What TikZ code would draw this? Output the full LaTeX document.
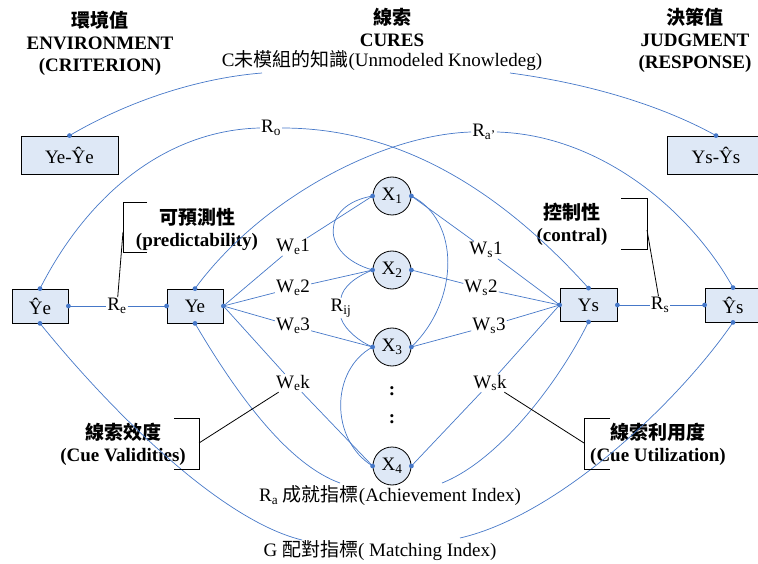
\documentclass[tikz,border=0pt]{standalone}
\usepackage{fontspec}
\setmainfont{Liberation Serif}
\newfontfamily\cjk{Noto Sans CJK TC}
\definecolor{lblue}{RGB}{70,120,200}
\definecolor{boxfill}{RGB}{222,232,246}
\begin{document}
\begin{tikzpicture}[x=1pt,y=-1pt,
  every node/.style={font=\fontsize{19}{22}\selectfont, inner sep=1pt},
  bx/.style={draw=black, line width=0.8pt, fill=boxfill, minimum height=34pt, inner sep=0pt},
  cue/.style={circle, draw=black, line width=0.8pt, fill=boxfill, minimum size=38pt, inner sep=0pt},
  lbl/.style={fill=white, inner sep=1pt},
  link/.style={draw=lblue, line width=0.7pt},
  brk/.style={draw=black, line width=0.8pt},
  ttl/.style={align=center, font=\fontsize{19}{22}\selectfont\bfseries},
  note/.style={align=center, font=\fontsize{19}{22}\selectfont\bfseries},
]
\useasboundingbox (0,0) rectangle (758,564);

% titles
\node[ttl] (envT) at (100,43) {{\cjk 環境值}\\ENVIRONMENT\\(CRITERION)};
\node[ttl] (cueT) at (392,27) {{\cjk 線索}\\CURES};
\node (cT) at (382,61) {C{\cjk 未模組的知識}(Unmodeled Knowledeg)};
\node[ttl] (judT) at (695,40) {{\cjk 決策值}\\JUDGMENT\\(RESPONSE)};

% boxes
\node[bx, minimum width=97pt, minimum height=38pt] (YeD) at (69.5,155) {Ye-Ŷe};
\node[bx, minimum width=97pt, minimum height=38pt] (YsD) at (716,155) {Ys-Ŷs};
\node[bx, minimum width=56pt] (Yhe) at (40,306) {Ŷe};
\node[bx, minimum width=56pt] (Ye) at (195,306) {Ye};
\node[bx, minimum width=57pt, minimum height=33pt] (Ys) at (588.5,305) {Ys};
\node[bx, minimum width=56pt] (Yhs) at (733,305) {Ŷs};

% cues
\node[cue] (X1) at (392,196) {X\textsubscript{1}};
\node[cue] (X2) at (392,270) {X\textsubscript{2}};
\node[cue] (X3) at (392,347) {X\textsubscript{3}};
\node[cue] (X4) at (392,466) {X\textsubscript{4}};
\node[font=\fontsize{19}{22}\selectfont\bfseries] (dA) at (392,391) {:};
\node[font=\fontsize{19}{22}\selectfont\bfseries] (dB) at (392,419) {:};

% weight labels
\node[lbl] (We1) at (293,247) {W\textsubscript{e}1};
\node[lbl] (We2) at (293,288) {W\textsubscript{e}2};
\node[lbl] (We3) at (293,326) {W\textsubscript{e}3};
\node[lbl] (Wek) at (293,383) {W\textsubscript{e}k};
\node[lbl] (Ws1) at (486,250) {W\textsubscript{s}1};
\node[lbl] (Ws2) at (481,288) {W\textsubscript{s}2};
\node[lbl] (Ws3) at (489,326) {W\textsubscript{s}3};
\node[lbl] (Wsk) at (490,383) {W\textsubscript{s}k};

\node[lbl] (Re) at (117,306) {R\textsubscript{e}};
\node[lbl] (Rs) at (660,305) {R\textsubscript{s}};
\node (Rij) at (341,308) {R\textsubscript{ij}};
\node (Ro) at (271,128) {R\textsubscript{o}};
\node (Rap) at (484,132) {R\textsubscript{a'}};

\node (RaT) at (390,496) {R\textsubscript{a} {\cjk 成就指標}(Achievement Index)};
\node (GT) at (380,551) {G {\cjk 配對指標}( Matching Index)};

% bracket notes
\node[note] (pred) at (197,229) {{\cjk 可預測性}\\(predictability)};
\node[note] (ctrl) at (572,224) {{\cjk 控制性}\\(contral)};
\node[note] (val) at (123,444) {{\cjk 線索效度}\\(Cue Validities)};
\node[note] (util) at (658,444) {{\cjk 線索利用度}\\(Cue Utilization)};

% free-end coordinates
\coordinate (cL) at (262,73);
\coordinate (cR) at (510,73);
\coordinate (raL) at (340,483);
\coordinate (raR) at (442,483);
\coordinate (gL) at (302,540);
\coordinate (gR) at (460,538);
\coordinate (bP) at (123,232);
\coordinate (bC) at (647,230);
\coordinate (bV) at (199,443);
\coordinate (bU) at (584,443);

% straight links
\draw[link] (Yhe.east) -- (Re) -- (Ye.west);
\draw[link] (Ys.east) -- (Rs) -- (Yhs.west);
\draw[link] (Ye.east) -- (We1) -- (X1.west);
\draw[link] (Ye.east) -- (We2) -- (X2.west);
\draw[link] (Ye.east) -- (We3) -- (X3.west);
\draw[link] (Ye.east) -- (Wek) -- (X4.west);
\draw[link] (Ys.west) -- (Ws1) -- (X1.east);
\draw[link] (Ys.west) -- (Ws2) -- (X2.east);
\draw[link] (Ys.west) -- (Ws3) -- (X3.east);
\draw[link] (Ys.west) -- (Wsk) -- (X4.east);

% cue intercorrelations
\draw[link] (X1.west) .. controls (320,205) and (320,255) .. (X2.west);
\draw[link] (X2.west) .. controls (355,277) and (343,287) .. (Rij.north);
\draw[link] (Rij.south) .. controls (345,330) and (360,342) .. (X3.west);
\draw[link] (X3.west) .. controls (330,370) and (330,440) .. (X4.west);
\draw[link] (X1.east) .. controls (460,220) and (460,300) .. (X3.east);

% big arcs
\draw[link] (YeD.north) .. controls (130,100) and (200,78) .. (cL);
\draw[link] (cR) .. controls (600,85) and (670,110) .. (YsD.north);
\draw[link] (Yhe.north) .. controls (90,190) and (170,130) .. (Ro.west);
\draw[link] (Ro.east) .. controls (400,128) and (500,190) .. (Ys.north);
\draw[link] (Ye.north) .. controls (260,200) and (380,135) .. (Rap.west);
\draw[link] (Rap.east) .. controls (600,135) and (690,210) .. (Yhs.north);
\draw[link] (Ye.south) .. controls (240,400) and (290,465) .. (raL);
\draw[link] (raR) .. controls (500,460) and (560,380) .. (Ys.south);
\draw[link] (Yhe.south) .. controls (110,410) and (220,520) .. (gL);
\draw[link] (gR) .. controls (560,515) and (680,400) .. (Yhs.south);

% brackets
\draw[brk] (147,202) -- (123,202) -- (123,252) -- (147,252);
\draw[brk] (bP) -- (Re);
\draw[brk] (621,198) -- (647,198) -- (647,249) -- (621,249);
\draw[brk] (bC) -- (Rs);
\draw[brk] (174,418) -- (199,418) -- (199,469) -- (174,469);
\draw[brk] (bV) -- (Wek);
\draw[brk] (610,418) -- (584,418) -- (584,469) -- (610,469);
\draw[brk] (bU) -- (Wsk);

% connection dots
\foreach \p in {YeD.north, YsD.north, Yhe.north, Yhe.east, Yhe.south,
  Ye.north, Ye.west, Ye.east, Ye.south, Ys.north, Ys.west, Ys.east, Ys.south,
  Yhs.north, Yhs.west, Yhs.south, X1.west, X1.east, X2.west, X2.east,
  X3.west, X3.east, X4.west, X4.east}
  \fill[lblue] (\p) circle[radius=2.4pt];
\end{tikzpicture}
\end{document}
